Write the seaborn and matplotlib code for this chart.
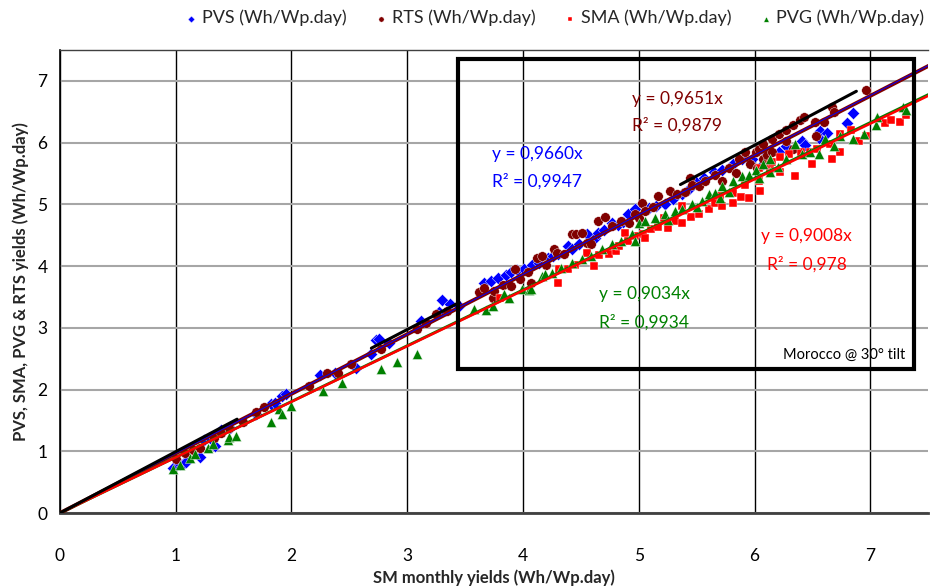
import numpy as np
import pandas as pd
import seaborn as sns
import matplotlib.pyplot as plt
from matplotlib.patches import Rectangle
from matplotlib.ticker import MultipleLocator

# seaborn options
sns.set_style("white")
plt.rcParams['font.family'] = ['Lato', 'DejaVu Sans']

# color storage
blue = '#0000ff'
dark_red = '#800000'
red = '#ff0000'
green = '#008000'

# PVS (Wh/Wp.day) vs SM monthly yields
pvs_x = [0.98, 1.04, 1.07, 1.09, 1.21, 1.24, 1.30, 1.34, 1.39, 1.47, 1.69, 1.82, 1.86, 1.92, 1.95,
         2.25, 2.38, 2.56, 2.69, 2.73, 2.76, 2.84, 3.12, 3.27, 3.30, 3.37, 3.45,
         3.66, 3.72, 3.78, 3.85, 3.90, 3.95, 4.01, 4.08, 4.14, 4.22, 4.26, 4.30, 4.39, 4.42, 4.48,
         4.55, 4.62, 4.65, 4.70, 4.77, 4.82, 4.86, 4.91, 4.97,
         5.09, 5.15, 5.23, 5.30, 5.37, 5.43, 5.49, 5.56, 5.65, 5.72, 5.81, 5.89, 5.98, 6.07, 6.09,
         6.21, 6.27, 6.41, 6.44, 6.56, 6.57, 6.63, 6.80, 6.85]
pvs_y = [0.73, 0.80, 0.81, 0.83, 0.90, 1.18, 1.22, 1.08, 1.34, 1.38, 1.61, 1.76, 1.79, 1.90, 1.92,
         2.23, 2.27, 2.35, 2.58, 2.80, 2.82, 2.76, 3.11, 3.25, 3.45, 3.38, 3.36,
         3.72, 3.76, 3.80, 3.86, 3.90, 3.93, 3.95, 4.01, 4.05, 4.13, 4.17, 4.19, 4.32, 4.27, 4.35,
         4.52, 4.46, 4.53, 4.58, 4.69, 4.66, 4.72, 4.85, 4.92,
         4.94, 4.97, 5.00, 5.08, 5.16, 5.25, 5.37, 5.42, 5.53, 5.56, 5.65, 5.73, 5.74, 5.65, 5.85,
         5.85, 5.94, 6.02, 5.96, 6.08, 6.19, 6.15, 6.32, 6.48]

# RTS (Wh/Wp.day)
rts_x = [1.00, 1.08, 1.15, 1.21, 1.33, 1.39, 1.46, 1.58, 1.69, 1.76, 2.15, 2.31, 2.40, 2.51, 2.77,
         3.08, 3.16, 3.25, 3.34,
         3.62, 3.66, 3.74, 3.75, 3.83, 3.90, 3.93, 3.97, 4.04, 4.07, 4.12, 4.16, 4.20, 4.27, 4.29,
         4.35, 4.42, 4.46, 4.51, 4.55, 4.59, 4.65, 4.71, 4.77, 4.85, 4.92, 4.97, 5.00,
         5.03, 5.05, 5.12, 5.17, 5.27, 5.33, 5.40, 5.44, 5.46, 5.52, 5.57, 5.66, 5.72, 5.78, 5.84,
         5.87, 5.92, 5.96, 6.01, 6.02, 6.04, 6.07, 6.07, 6.11, 6.15, 6.15, 6.21, 6.27, 6.27, 6.33,
         6.33, 6.39, 6.43, 6.52, 6.53, 6.60, 6.67, 6.69, 6.96]
rts_y = [0.87, 0.98, 1.02, 1.06, 1.21, 1.29, 1.37, 1.47, 1.63, 1.71, 2.06, 2.26, 2.27, 2.42, 2.66,
         2.98, 3.08, 3.22, 3.27,
         3.58, 3.65, 3.48, 3.60, 3.70, 3.68, 3.95, 3.79, 3.90, 3.73, 4.13, 4.16, 4.02, 4.27, 4.21,
         4.19, 4.52, 4.52, 4.53, 4.38, 4.35, 4.73, 4.79, 4.65, 4.73, 4.70, 4.84, 4.77,
         5.02, 4.89, 4.95, 5.13, 5.21, 5.16, 5.20, 5.42, 5.32, 5.30, 5.37, 5.48, 5.37, 5.58, 5.50,
         5.74, 5.85, 5.65, 5.85, 5.58, 5.90, 5.97, 5.74, 5.80, 6.06, 5.85, 6.13, 6.21, 6.02, 6.29,
         5.90, 6.37, 6.42, 6.34, 6.10, 6.34, 6.58, 6.50, 6.85]

# SMA (Wh/Wp.day)
sma_x = [3.80, 4.30, 4.31, 4.39, 4.45, 4.55, 4.61, 4.66, 4.74, 4.80, 4.83, 4.88, 4.91, 4.97,
         5.04, 5.05, 5.11, 5.17, 5.22, 5.25, 5.31, 5.37, 5.37, 5.45, 5.52, 5.61, 5.66, 5.70, 5.72,
         5.81, 5.81, 5.88, 5.92, 5.95, 6.04, 6.04, 6.05, 6.13, 6.13, 6.15, 6.22, 6.22, 6.30, 6.35,
         6.40, 6.48, 6.50, 6.54, 6.65, 6.67, 6.74, 6.74, 6.83, 6.90, 6.96, 7.13, 7.18, 7.26, 7.31]
sma_y = [3.48, 3.73, 3.95, 3.95, 4.02, 4.21, 4.00, 4.18, 4.19, 4.25, 4.32, 4.53, 4.40, 4.48,
         4.52, 4.45, 4.60, 4.63, 4.77, 4.62, 4.73, 4.97, 4.69, 4.80, 4.85, 4.92, 5.02, 5.13, 4.97,
         5.18, 5.02, 5.12, 5.32, 5.10, 5.37, 5.58, 5.21, 5.53, 5.65, 5.69, 5.77, 5.53, 5.82, 5.45,
         5.85, 5.85, 5.66, 5.89, 5.97, 5.74, 6.13, 5.85, 6.21, 6.02, 6.10, 6.31, 6.37, 6.34, 6.45]

# PVG (Wh/Wp.day)
pvg_x = [0.98, 1.04, 1.12, 1.17, 1.28, 1.32, 1.45, 1.46, 1.52, 1.82, 1.89, 1.92, 2.00, 2.27,
         2.44, 2.77, 2.91, 3.08,
         3.58, 3.68, 3.74, 3.84, 3.88, 3.99, 4.05, 4.07, 4.16, 4.19, 4.25, 4.33, 4.42, 4.51, 4.59,
         4.68, 4.77, 4.85, 4.94, 4.97,
         5.00, 5.05, 5.14, 5.23, 5.25, 5.31, 5.37, 5.46, 5.50, 5.55, 5.61, 5.66, 5.70, 5.72, 5.78,
         5.81, 5.89, 5.95, 6.01, 6.04, 6.07, 6.13, 6.13, 6.20, 6.27, 6.35, 6.41, 6.48, 6.56, 6.61,
         6.69, 6.74, 6.85, 6.95, 7.05, 7.06, 7.28, 7.31]
pvg_y = [0.71, 0.77, 0.89, 0.95, 1.06, 1.11, 1.18, 1.23, 1.24, 1.47, 1.68, 1.61, 1.74, 1.97,
         2.11, 2.34, 2.45, 2.58,
         3.31, 3.29, 3.35, 3.55, 3.48, 3.63, 3.61, 3.63, 3.84, 3.87, 3.89, 3.97, 4.05, 4.11, 4.16,
         4.27, 4.35, 4.40, 4.52, 4.40,
         4.69, 4.73, 4.77, 4.85, 4.75, 4.89, 4.92, 5.00, 4.95, 5.05, 5.16, 5.18, 5.10, 5.29, 5.20,
         5.37, 5.45, 5.48, 5.56, 5.42, 5.65, 5.73, 5.53, 5.61, 5.73, 5.98, 5.81, 5.85, 5.81, 6.05,
         5.94, 6.10, 6.06, 6.13, 6.29, 6.42, 6.58, 6.53]

# trendlines through origin: slope and R2 per series
trend_slopes = {'PVS': 0.9660, 'RTS': 0.9651, 'SMA': 0.9008, 'PVG': 0.9034}
trend_r2 = {'PVS': '0,9947', 'RTS': '0,9879', 'SMA': '0,978', 'PVG': '0,9934'}

# black reference segments (gaps as NaN)
ref_x = [0.0, 1.53, np.nan, 2.69, 3.45, np.nan, 5.36, 6.88]
ref_y = [0.0, 1.52, np.nan, 2.67, 3.41, np.nan, 5.32, 6.83]

df = pd.concat([
    pd.DataFrame({'SM': pvs_x, 'yield': pvs_y, 'series': 'PVS (Wh/Wp.day)'}),
    pd.DataFrame({'SM': rts_x, 'yield': rts_y, 'series': 'RTS (Wh/Wp.day)'}),
    pd.DataFrame({'SM': sma_x, 'yield': sma_y, 'series': 'SMA (Wh/Wp.day)'}),
    pd.DataFrame({'SM': pvg_x, 'yield': pvg_y, 'series': 'PVG (Wh/Wp.day)'}),
], ignore_index=True)

styles = {
    'PVS (Wh/Wp.day)': (blue, 'D', 40),
    'RTS (Wh/Wp.day)': (dark_red, 'o', 48),
    'SMA (Wh/Wp.day)': (red, 's', 38),
    'PVG (Wh/Wp.day)': (green, '^', 52),
}

fig = plt.figure(figsize=(9.3, 5.87), dpi=100)
ax = fig.add_axes([0.0645, 0.126, 0.9335, 0.789])

for name, (col, mk, sz) in styles.items():
    sns.scatterplot(data=df[df['series'] == name], x='SM', y='yield', ax=ax,
                    color=col, marker=mk, s=sz, edgecolor='white', linewidth=0.3,
                    label=name, zorder=3)

# trendlines
xl = np.array([0, 7.6])
ax.plot(xl, trend_slopes['RTS'] * xl, color=dark_red, lw=2.8, zorder=4)
ax.plot(xl, trend_slopes['PVS'] * xl, color=blue, lw=0.7, zorder=4)
ax.plot(xl, trend_slopes['PVG'] * xl, color=green, lw=2, zorder=4)
ax.plot(xl, trend_slopes['SMA'] * xl, color=red, lw=1.8, zorder=4)
ax.plot(ref_x, ref_y, color='black', lw=2.2, zorder=5)

# zoom box
ax.add_patch(Rectangle((3.44, 2.34), 3.94, 5.01, fill=False, edgecolor='black', lw=3, zorder=6))

fs = 12.5
ax.text(4.94, 6.71, 'y = ' + f"{trend_slopes['RTS']:.4f}".replace('.', ',') + 'x', color=dark_red, fontsize=fs, va='center')
ax.text(4.94, 6.27, 'R² = ' + trend_r2['RTS'], color=dark_red, fontsize=fs, va='center')
ax.text(3.73, 5.82, 'y = ' + f"{trend_slopes['PVS']:.4f}".replace('.', ',') + 'x', color=blue, fontsize=fs, va='center')
ax.text(3.73, 5.37, 'R² = ' + trend_r2['PVS'], color=blue, fontsize=fs, va='center')
ax.text(6.06, 4.48, 'y = ' + f"{trend_slopes['SMA']:.4f}".replace('.', ',') + 'x', color=red, fontsize=fs, va='center')
ax.text(6.11, 4.03, 'R² = ' + trend_r2['SMA'], color=red, fontsize=fs, va='center')
ax.text(4.66, 3.55, 'y = ' + f"{trend_slopes['PVG']:.4f}".replace('.', ',') + 'x', color=green, fontsize=fs, va='center')
ax.text(4.66, 3.08, 'R² = ' + trend_r2['PVG'], color=green, fontsize=fs, va='center')
ax.text(7.30, 2.56, 'Morocco @ 30° tilt', color='black', fontsize=10.5, ha='right', va='center')

ax.set_xlim(0, 7.5)
ax.set_ylim(0, 7.5)
ax.xaxis.set_minor_locator(MultipleLocator(0.5))
ax.yaxis.set_minor_locator(MultipleLocator(0.5))
ax.set_xticks([0, 1, 2, 3, 4, 5, 6, 7])
ax.set_yticks([0, 1, 2, 3, 4, 5, 6, 7])

ax.grid(axis='x', which='major', color='black', lw=1)
ax.grid(axis='y', which='major', color='#a6a6a6', lw=1.5)
ax.set_axisbelow(True)

ax.tick_params(axis='both', which='major', direction='inout', length=10, width=1, labelsize=12.5, colors='black')
ax.tick_params(axis='both', which='minor', direction='in', length=4, width=1)
ax.tick_params(axis='x', which='major', pad=20)
ax.tick_params(axis='y', which='major', pad=4)

ax.spines['left'].set_color('black')
ax.spines['left'].set_linewidth(1.2)
ax.spines['bottom'].set_color('#404040')
ax.spines['bottom'].set_linewidth(2)
ax.spines['top'].set_color('#404040')
ax.spines['top'].set_linewidth(1)
ax.spines['right'].set_visible(False)

ax.set_xlabel('SM monthly yields (Wh/Wp.day)', fontsize=12, fontweight='bold', labelpad=4)
ax.set_ylabel('PVS, SMA, PVG & RTS yields (Wh/Wp.day)', fontsize=12, fontweight='bold', labelpad=6)

handles, labels = ax.get_legend_handles_labels()
ax.legend(handles, labels, loc='center', bbox_to_anchor=(0.595, 0.969), bbox_transform=fig.transFigure,
          ncol=4, frameon=False, fontsize=13, markerscale=0.55, handletextpad=0.1, columnspacing=1.4,
          handlelength=1.0)

plt.savefig('out.png', dpi=100)
plt.close()
